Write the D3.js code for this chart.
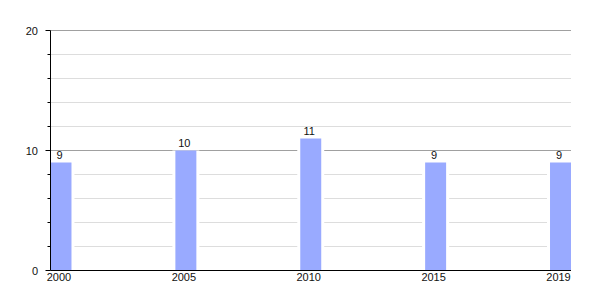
<!DOCTYPE html>
<html>
<head>
<meta charset="utf-8">
<script src="https://cdn.jsdelivr.net/npm/d3@7"></script>
<style>
  body { margin: 0; background: #fff; }
  text { font-family: "Liberation Sans", Arial, sans-serif; font-size: 11px; fill: #111; }
</style>
</head>
<body>
<svg id="chart"></svg>
<script>
// data
const years = ["2000", "2005", "2010", "2015", "2019"];
const values = [9, 10, 11, 9, 9];
const majorTicks = [0, 10, 20];
const minorTicks = [2, 4, 6, 8, 12, 14, 16, 18];

const width = 600;
const height = 300;

const svg = d3.select("#chart")
    .attr("width", width)
    .attr("height", height);

// scales
const x = d3.scaleBand()
    .domain(years)
    .range([50.5, 571])
    .paddingInner(0.832)
    .paddingOuter(0);

const y = d3.scaleLinear()
    .domain([0, 20])
    .range([270.5, 30.5]);

const left = 50.5;
const right = 571;

// minor gridlines
svg.append("g")
    .selectAll("line")
    .data(minorTicks)
    .join("line")
    .attr("x1", left)
    .attr("x2", right)
    .attr("y1", d => y(d))
    .attr("y2", d => y(d))
    .attr("stroke", "#dddddd");

// major gridlines
svg.append("g")
    .selectAll("line")
    .data(majorTicks.filter(d => d > 0))
    .join("line")
    .attr("x1", left)
    .attr("x2", right)
    .attr("y1", d => y(d))
    .attr("y2", d => y(d))
    .attr("stroke", "#a0a0a0");

// white margin round each bar, then the bars
svg.append("g")
    .selectAll("rect")
    .data(values)
    .join("rect")
    .attr("x", (d, i) => x(years[i]) - 3)
    .attr("width", x.bandwidth() + 6)
    .attr("y", d => y(d))
    .attr("height", d => y(0) - y(d))
    .attr("fill", "#fff");

svg.append("g")
    .selectAll("rect")
    .data(values)
    .join("rect")
    .attr("x", (d, i) => x(years[i]))
    .attr("width", x.bandwidth())
    .attr("y", d => y(d))
    .attr("height", d => y(0) - y(d))
    .attr("fill", "#99aaff");

// value labels
svg.append("g")
    .selectAll("text")
    .data(values)
    .join("text")
    .attr("x", (d, i) => x(years[i]) + x.bandwidth() / 2 - 1.5)
    .attr("y", d => y(d) - 4)
    .attr("text-anchor", "middle")
    .text(d => d);

// y axis: line, ticks, labels
svg.append("line")
    .attr("x1", left).attr("x2", left)
    .attr("y1", y(20)).attr("y2", y(0))
    .attr("stroke", "#000");

svg.append("g")
    .selectAll("line")
    .data(majorTicks)
    .join("line")
    .attr("x1", left - 5).attr("x2", left)
    .attr("y1", d => y(d)).attr("y2", d => y(d))
    .attr("stroke", "#000");

svg.append("g")
    .selectAll("line")
    .data(minorTicks)
    .join("line")
    .attr("x1", left - 3).attr("x2", left)
    .attr("y1", d => y(d)).attr("y2", d => y(d))
    .attr("stroke", "#000");

svg.append("g")
    .selectAll("text")
    .data(majorTicks)
    .join("text")
    .attr("x", 38)
    .attr("y", d => y(d) + 4)
    .attr("text-anchor", "end")
    .text(d => d);

// x axis
svg.append("line")
    .attr("x1", left).attr("x2", right)
    .attr("y1", y(0)).attr("y2", y(0))
    .attr("stroke", "#000");

svg.append("g")
    .selectAll("text")
    .data(years)
    .join("text")
    .attr("x", d => x(d) + x.bandwidth() / 2 - 2)
    .attr("y", 281)
    .attr("text-anchor", "middle")
    .text(d => d);
</script>
</body>
</html>
